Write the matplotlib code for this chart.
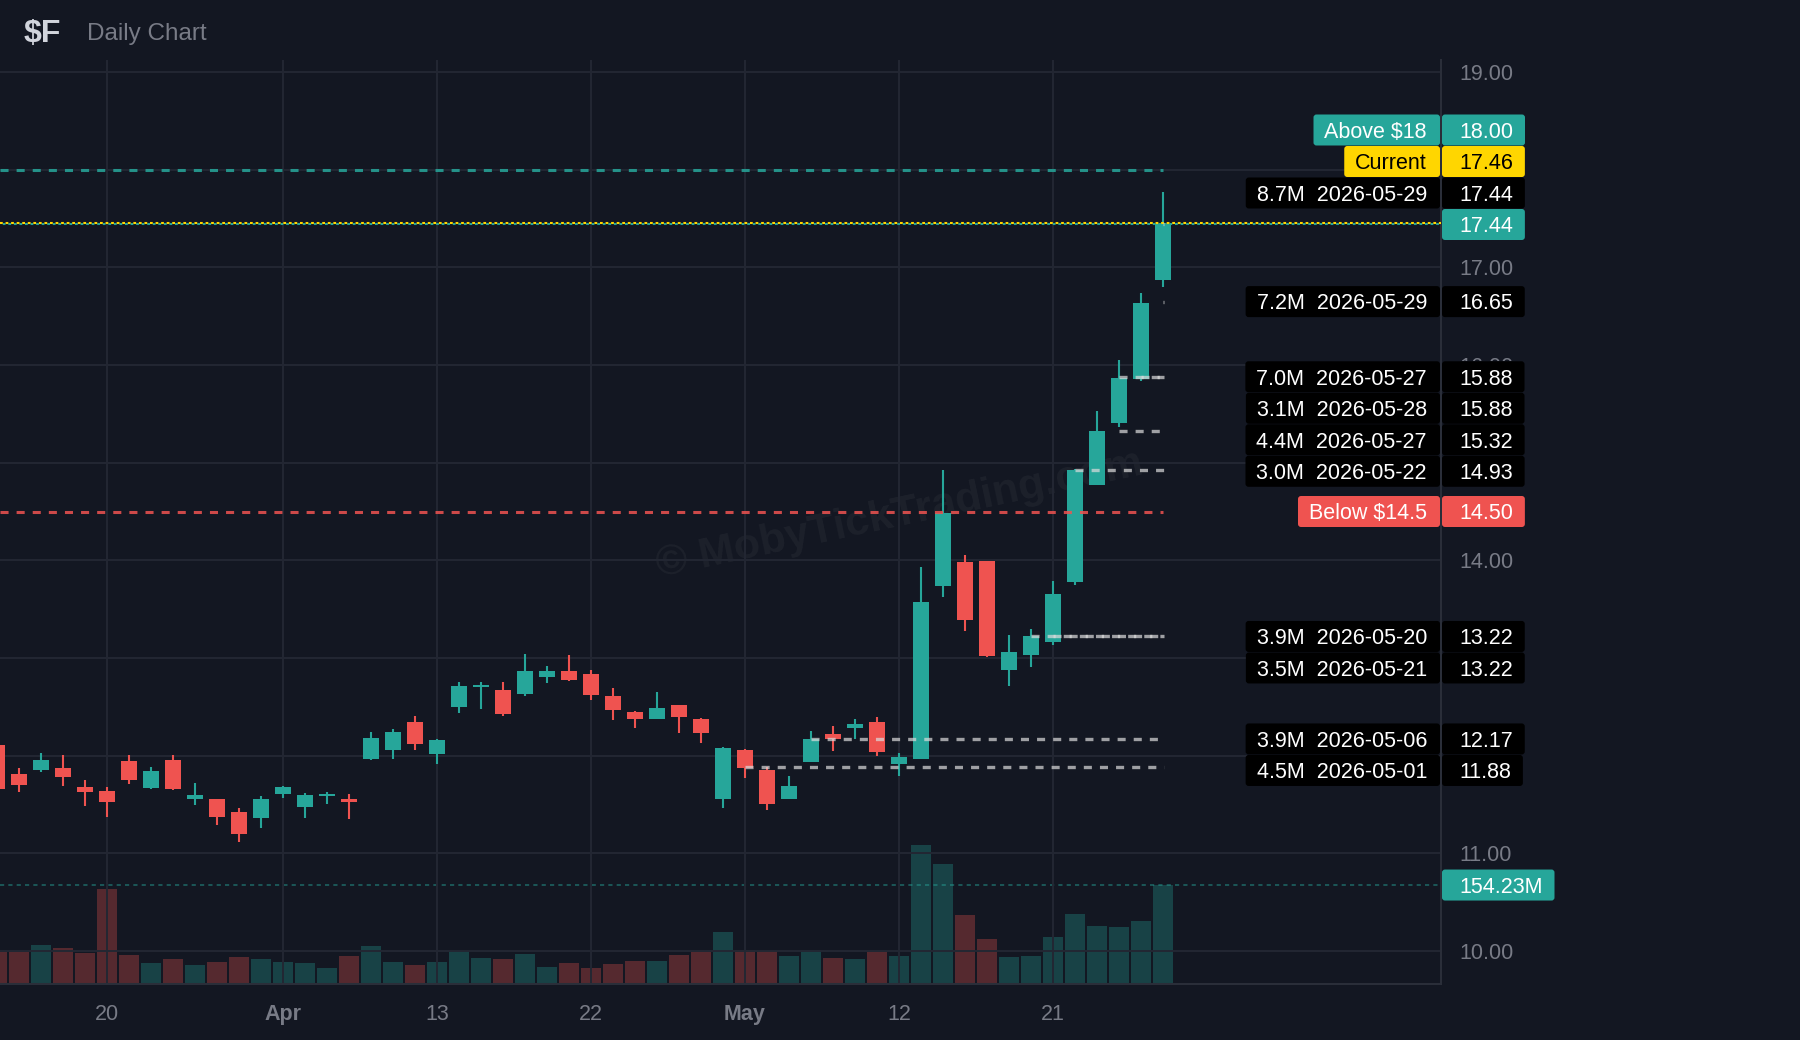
import matplotlib
matplotlib.use("Agg")
import matplotlib.pyplot as plt
from matplotlib.patches import FancyBboxPatch
from matplotlib.transforms import Bbox

plt.rcParams['font.family'] = ['Liberation Sans', 'DejaVu Sans']
plt.rcParams['lines.scale_dashes'] = False

BG = '#131722'
GRID = '#232733'
AXIS = '#2a2e39'
TXT = '#787b86'
UP = '#26a69a'
DOWN = '#ef5350'
YEL = '#ffd600'

### Daily bars ($F)

dates = ['2026-03-13', '2026-03-16', '2026-03-17', '2026-03-18', '2026-03-19', '2026-03-20',
         '2026-03-23', '2026-03-24', '2026-03-25', '2026-03-26', '2026-03-27',
         '2026-03-30', '2026-03-31', '2026-04-01', '2026-04-02',
         '2026-04-06', '2026-04-07', '2026-04-08', '2026-04-09', '2026-04-10',
         '2026-04-13', '2026-04-14', '2026-04-15', '2026-04-16', '2026-04-17',
         '2026-04-20', '2026-04-21', '2026-04-22', '2026-04-23', '2026-04-24',
         '2026-04-27', '2026-04-28', '2026-04-29', '2026-04-30', '2026-05-01',
         '2026-05-04', '2026-05-05', '2026-05-06', '2026-05-07', '2026-05-08',
         '2026-05-11', '2026-05-12', '2026-05-13', '2026-05-14', '2026-05-15',
         '2026-05-18', '2026-05-19', '2026-05-20', '2026-05-21', '2026-05-22',
         '2026-05-26', '2026-05-27', '2026-05-28', '2026-05-29']

opens = [12.11, 11.81, 11.85, 11.875, 11.68, 11.64, 11.94, 11.67, 11.95, 11.56, 11.55,
         11.42, 11.36, 11.61, 11.47, 11.59, 11.55, 11.96, 12.06, 12.34, 12.02,
         12.50, 12.70, 12.67, 12.63, 12.80, 12.865, 12.835, 12.61, 12.445, 12.375,
         12.52, 12.375, 11.55, 12.06, 11.855, 11.56, 11.935, 12.22, 12.28, 12.345,
         11.915, 11.965, 13.735, 13.98, 13.99, 12.875, 13.035, 13.16, 13.775, 14.77,
         15.41, 15.86, 16.87]
highs = [12.14, 11.875, 12.03, 12.01, 11.75, 11.68, 12.01, 11.885, 12.01, 11.72, 11.56,
         11.46, 11.59, 11.69, 11.62, 11.63, 11.61, 12.24, 12.27, 12.41, 12.17,
         12.75, 12.75, 12.75, 13.04, 12.915, 13.03, 12.875, 12.69, 12.455, 12.65,
         12.52, 12.385, 12.09, 12.07, 11.885, 11.79, 12.25, 12.30, 12.375, 12.395,
         12.03, 13.935, 14.93, 14.05, 13.99, 13.23, 13.30, 13.79, 14.94, 15.53,
         16.05, 16.74, 17.77]
lows = [11.63, 11.63, 11.83, 11.69, 11.48, 11.37, 11.71, 11.66, 11.65, 11.49, 11.285,
        11.11, 11.26, 11.57, 11.36, 11.50, 11.35, 11.95, 11.96, 12.06, 11.915,
        12.435, 12.48, 12.405, 12.61, 12.74, 12.76, 12.57, 12.365, 12.28, 12.37,
        12.23, 12.13, 11.465, 11.77, 11.445, 11.55, 11.935, 12.05, 12.17, 12.00,
        11.79, 11.96, 13.62, 13.275, 13.005, 12.71, 12.905, 13.13, 13.75, 14.77,
        15.37, 15.84, 16.80]
closes = [11.66, 11.70, 11.95, 11.78, 11.63, 11.52, 11.75, 11.845, 11.66, 11.60, 11.37,
          11.20, 11.55, 11.68, 11.60, 11.61, 11.52, 12.18, 12.24, 12.12, 12.16,
          12.71, 12.71, 12.425, 12.865, 12.865, 12.77, 12.62, 12.465, 12.375, 12.49,
          12.395, 12.23, 12.08, 11.875, 11.50, 11.69, 12.17, 12.17, 12.32, 12.04,
          11.985, 13.57, 14.48, 13.385, 13.02, 13.06, 13.22, 13.66, 14.93, 15.32,
          15.87, 16.64, 17.44]
# volume in millions
volumes = [50.2, 50.2, 61.2, 56.5, 48.6, 147.5, 45.5, 33.0, 39.2, 29.8, 34.5,
           42.4, 39.2, 34.5, 33.0, 25.1, 43.9, 59.6, 34.5, 29.8, 34.5,
           51.8, 40.8, 39.2, 47.1, 26.7, 33.0, 25.1, 31.4, 36.1, 36.1,
           45.5, 50.2, 81.6, 53.3, 51.8, 43.9, 53.3, 40.8, 39.2, 50.2,
           43.9, 216.5, 186.7, 108.3, 70.6, 42.4, 43.9, 73.4, 109.6, 90.8,
           89.2, 98.6, 154.23]

tick_dates = ['2026-03-20', '2026-04-01', '2026-04-13', '2026-04-22',
              '2026-05-01', '2026-05-12', '2026-05-21']

last_price = 17.44
current_price = 17.46
alert_above = 18.00
alert_below = 14.50
last_volume = 154.23

### Volume-at-price levels

level_vols = ['8.7M', '7.2M', '7.0M', '3.1M', '4.4M', '3.0M', '3.9M', '3.5M', '3.9M', '4.5M']
level_dates = ['2026-05-29', '2026-05-29', '2026-05-27', '2026-05-28', '2026-05-27',
               '2026-05-22', '2026-05-20', '2026-05-21', '2026-05-06', '2026-05-01']
level_prices = [17.44, 16.65, 15.88, 15.88, 15.32, 14.93, 13.22, 13.22, 12.17, 11.88]

W, H = 1800, 1040
fig = plt.figure(figsize=(W / 100, H / 100), dpi=100, facecolor=BG)
rect = [0, 56 / H, 1441 / W, 924 / H]

x = list(range(len(dates)))
last_i = len(dates) - 1
xlim = (0.136, 65.64)

# volume pane (own scale, bottom of chart)
axv = fig.add_axes(rect, zorder=0)
axv.set_facecolor(BG)
vcol = [UP if c >= o else DOWN for o, c in zip(opens, closes)]
axv.bar(x, volumes, width=0.9, color=vcol, alpha=0.3, linewidth=0)
axv.axhline(last_volume, color=UP, alpha=0.45, lw=1.4, ls=(0, (3, 3)))
axv.set_xlim(*xlim)
axv.set_ylim(0, 1440)
axv.set_xticks([])
axv.set_yticks([])
for s in axv.spines.values():
    s.set_visible(False)

# price pane
ax = fig.add_axes(rect, zorder=1)
ax.patch.set_alpha(0)
ax.set_xlim(*xlim)
ax.set_ylim(9.66, 19.125)
ax.set_axisbelow(True)
ax.grid(True, color=GRID, lw=1.4)

for s in ['top', 'left']:
    ax.spines[s].set_visible(False)
for s in ['right', 'bottom']:
    ax.spines[s].set_color(AXIS)
    ax.spines[s].set_linewidth(1.5)

months = {'03': 'Mar', '04': 'Apr', '05': 'May'}
tick_pos = [dates.index(d) for d in tick_dates]
tick_lab = [months[d[5:7]] if d.endswith('-01') else str(int(d[8:])) for d in tick_dates]
ax.set_xticks(tick_pos)
ax.set_xticklabels(tick_lab)
ax.tick_params(axis='x', length=0, pad=14.5, colors=TXT, labelsize=15.5)
for t in ax.get_xticklabels():
    if not t.get_text().isdigit():
        t.set_fontweight('bold')

ax.text(0.624, 0.508, '\u00a9 MobyTickTrading.com', transform=ax.transAxes, rotation=12,
        ha='center', va='center', fontsize=31, fontweight='bold', color='white',
        alpha=0.045, zorder=0.5)

# candles
ccol = [UP if c >= o else DOWN for o, c in zip(opens, closes)]
ax.vlines(x, lows, highs, colors=ccol, lw=1.5, zorder=2)
bottoms = [min(o, c) for o, c in zip(opens, closes)]
heights = [max(abs(c - o), 0.02) for o, c in zip(opens, closes)]
ax.bar(x, heights, bottom=bottoms, width=0.73, color=ccol, linewidth=0, zorder=3)

# alert and price lines
ax.hlines(alert_above, xlim[0], last_i, colors=UP, alpha=0.85, lw=2.2,
          linestyles=(0, (5.8, 5.8)), zorder=4)
ax.hlines(alert_below, xlim[0], last_i, colors=DOWN, alpha=0.85, lw=2.2,
          linestyles=(0, (5.8, 5.8)), zorder=4)
ax.axhline(last_price, color=UP, lw=1.5, ls=(2, (2, 2)), zorder=4)
ax.axhline(current_price, color=YEL, lw=1.5, ls=(0, (2, 2)), zorder=4)

for p, d in zip(level_prices, level_dates):
    ax.hlines(p, dates.index(d), last_i + 0.05, colors='#dcdcdc', alpha=0.7, lw=2.4,
              linestyles=(0, (5.8, 5.8)), zorder=5)

# price-axis labels, stacked so they do not overlap
labels = [('above', f'Above ${alert_above:g}', alert_above),
          ('current', 'Current', current_price)]
labels += [('level', f'{v}  {d}', p) for v, d, p in zip(level_vols, level_dates, level_prices)]
labels += [('last', None, last_price), ('below', f'Below ${alert_below:g}', alert_below)]
labels.sort(key=lambda r: -r[2])

styles = {'above': (UP, 'white'), 'current': (YEL, 'black'), 'level': ('black', 'white'),
          'last': (UP, 'white'), 'below': (DOWN, 'white')}


def py(price, axis=ax):
    return H - axis.transData.transform((0, price))[1]


BOXH = 31
STEP = 31.5
target = [py(r[2]) for r in labels]
ys = list(target)
k0 = [r[0] for r in labels].index('last')
for k in range(k0 - 1, -1, -1):
    ys[k] = min(target[k], ys[k + 1] - STEP)
for k in range(k0 + 1, len(labels)):
    ys[k] = max(target[k], ys[k - 1] + STEP)

# price ticks sit under the tags: leave out the covered ones, clip the partly covered
boxes = [(yc - BOXH / 2, yc + BOXH / 2) for yc in ys]
yticks = list(range(10, 20))
ytext = []
clip = {}
for v in yticks:
    yt = py(v)
    s = f'{v:.2f}'
    for b0, b1 in boxes:
        if b0 <= yt <= b1:
            above_free = yt - 11 < b0 - 3 and not any(
                c0 <= yt - 11 and c1 >= b0 - 3 for c0, c1 in boxes)
            if above_free:
                clip[s] = b0
            else:
                s = ''
            break
    ytext.append(s)

ax.yaxis.tick_right()
ax.set_yticks(yticks)
ax.set_yticklabels(ytext)
ax.tick_params(axis='y', length=0, pad=13.5, colors=TXT, labelsize=15.5)
for t in ax.get_yticklabels():
    if t.get_text() in clip:
        t.set_clip_box(Bbox.from_extents(0, H - clip[t.get_text()], W, H))
        t.set_clip_on(True)

ov = fig.add_axes([0, 0, 1, 1], zorder=10)
ov.set_xlim(0, W)
ov.set_ylim(H, 0)
ov.axis('off')
renderer = fig.canvas.get_renderer()

AX_X = 1441


def tag(xl, xr, yc, fc):
    ov.add_patch(FancyBboxPatch((xl, yc - BOXH / 2), xr - xl, BOXH,
                                boxstyle='round,pad=0,rounding_size=3',
                                fc=fc, ec='none'))


for (kind, left, price), yc in zip(labels, ys):
    fc, tc = styles[kind]
    t = ov.text(1459, yc + 7.8, f'{price:.2f}', ha='left', va='baseline',
                fontsize=15.5, color=tc, zorder=3)
    bb = t.get_window_extent(renderer)
    tag(AX_X + 1, 1459 + bb.width + 12, yc, fc)
    if left:
        t = ov.text(1427, yc + 7.8, left, ha='right', va='baseline',
                    fontsize=15.5, color=tc, zorder=3, parse_math=False)
        bb = t.get_window_extent(renderer)
        tag(1427 - bb.width - 11, AX_X - 1, yc, fc)

yv = py(last_volume, axv)
t = ov.text(1459, yv + 7.8, f'{last_volume:.2f}M', ha='left', va='baseline',
            fontsize=15.5, color='white', zorder=3)
bb = t.get_window_extent(renderer)
tag(AX_X + 1, 1459 + bb.width + 12, yv, UP)

# header
fig.text(24 / W, 1 - 34 / H, '$F', fontsize=23, fontweight='bold', color='#d1d4dc',
         va='center', parse_math=False)
fig.text(87 / W, 1 - 34 / H, 'Daily Chart', fontsize=17.5, color=TXT, va='center')

fig.savefig('out.png', dpi=100, facecolor=BG)
